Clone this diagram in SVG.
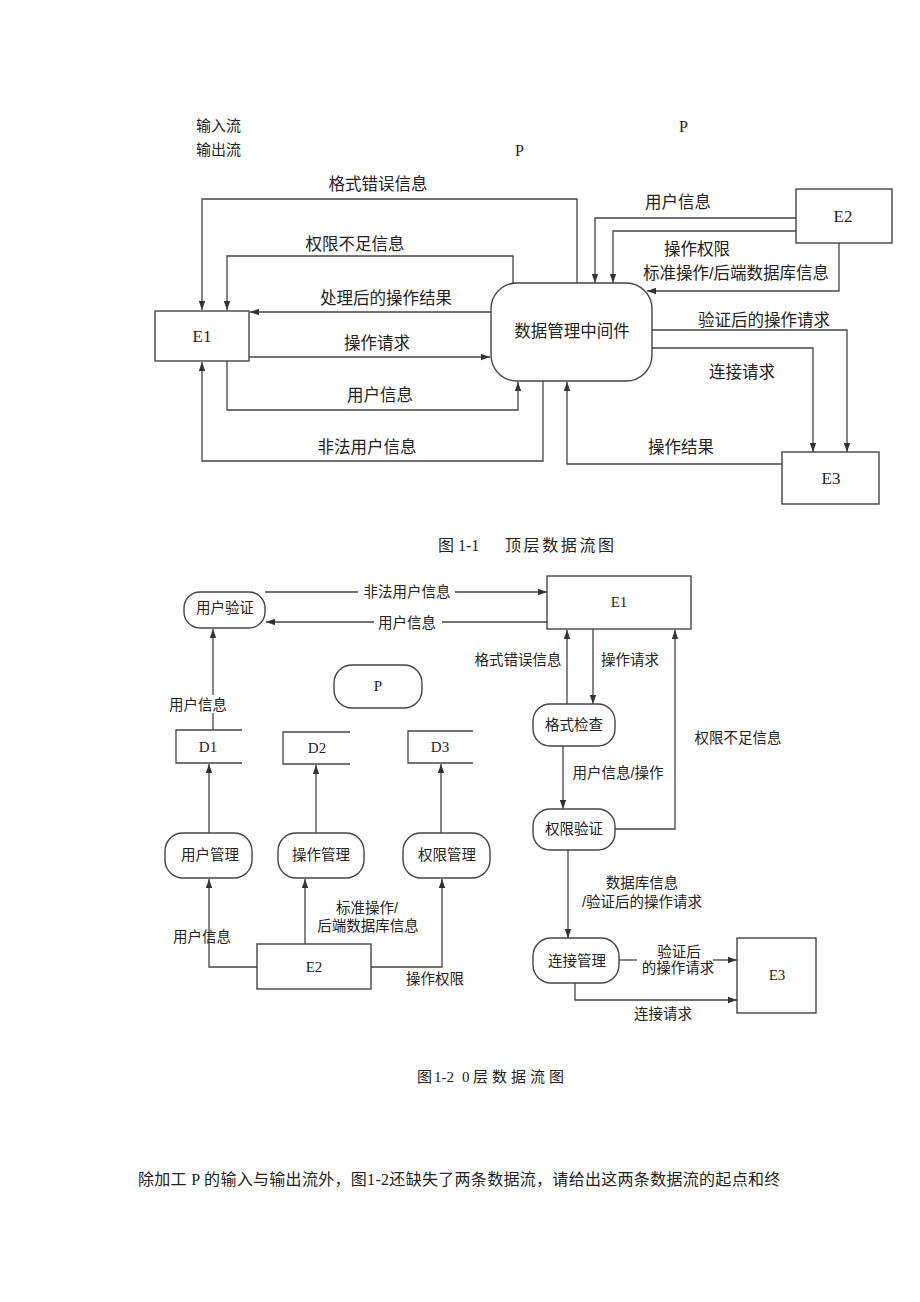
<svg xmlns="http://www.w3.org/2000/svg" width="920" height="1302" viewBox="0 0 920 1302">
<defs>
<marker id="arr" markerUnits="userSpaceOnUse" markerWidth="10" markerHeight="8" refX="9" refY="4" orient="auto">
<path d="M0,0.8 L9,4 L0,7.2 z" fill="#333"/>
</marker>
<style>
.ln{fill:none;stroke:#444;stroke-width:1.3}
.cn{fill:none;stroke:#444;stroke-width:1.3;marker-end:url(#arr)}
.bx{fill:#fff;stroke:#444;stroke-width:1.4}
.t{font-family:"Liberation Sans","Noto Sans CJK SC",sans-serif;fill:#222;text-anchor:middle}
.l1{font-size:16.5px}
.l2{font-size:14.5px}
.s{font-family:"Liberation Serif","Noto Sans CJK SC",serif;fill:#222}
.sm{text-anchor:middle}
</style>
</defs>
<rect width="920" height="1302" fill="#fff"/>

<!-- header texts -->
<g id="header">
<text class="t l1" x="196" y="131" style="text-anchor:start;font-size:15px">输入流</text>
<text class="t l1" x="196" y="155" style="text-anchor:start;font-size:15px">输出流</text>
<text class="s" x="679" y="132" font-size="16">P</text>
<text class="s" x="515" y="156" font-size="16">P</text>
</g>

<!-- ================= Figure 1-1 ================= -->
<g id="conn-top">
<path class="cn" d="M577,283 V199 H202 V310"/>
<path class="cn" d="M513,286 V256 H227 V310"/>
<path class="cn" d="M491,312 H250"/>
<path class="cn" d="M249,357 H490"/>
<path class="cn" d="M227,361 V410 H518 V382"/>
<path class="cn" d="M543,381 V461 H202 V362"/>
<path class="cn" d="M796,218 H595 V283"/>
<path class="cn" d="M796,231 H613 V283"/>
<path class="cn" d="M839,243 V291 H647"/>
<path class="cn" d="M652,330 H847 V452"/>
<path class="cn" d="M652,348 H813 V452"/>
<path class="cn" d="M782,464 H567 V382"/>
<g class="t l1">
<text x="378" y="190">格式错误信息</text>
<text x="355" y="250">权限不足信息</text>
<text x="386" y="304">处理后的操作结果</text>
<text x="377" y="349">操作请求</text>
<text x="380" y="401">用户信息</text>
<text x="367" y="453">非法用户信息</text>
<text x="678" y="208">用户信息</text>
<text x="697" y="255">操作权限</text>
<text x="736" y="279">标准操作/后端数据库信息</text>
<text x="764" y="326">验证后的操作请求</text>
<text x="742" y="378">连接请求</text>
<text x="681" y="453">操作结果</text>
</g>
</g>

<g id="E1-top">
<rect class="bx" x="155" y="311" width="94" height="50"/>
<text class="s sm" x="202" y="342" font-size="17">E1</text>
</g>
<g id="middleware">
<rect class="bx" x="491" y="283" width="161" height="98" rx="26" ry="26"/>
<text class="t l1" x="572" y="337">数据管理中间件</text>
</g>
<g id="E2-top">
<rect class="bx" x="796" y="189" width="96" height="54"/>
<text class="s sm" x="843" y="222" font-size="17">E2</text>
</g>
<g id="E3-top">
<rect class="bx" x="782" y="452" width="97" height="52"/>
<text class="s sm" x="831" y="484" font-size="17">E3</text>
</g>

<g id="caption1">
<text class="s" x="438" y="551" font-size="16"><tspan>图 1-1</tspan><tspan x="505" letter-spacing="2.6">顶层数据流图</tspan></text>
</g>

<!-- ================= Figure 1-2 ================= -->
<g id="conn-bottom">
<path class="ln" d="M265,592 H358"/>
<path class="cn" d="M455,592 H547"/>
<path class="ln" d="M547,622 H442"/>
<path class="cn" d="M374,622 H266"/>
<path class="ln" d="M213,730 V713"/>
<path class="cn" d="M213,695 V629"/>
<path class="cn" d="M209,833 V764"/>
<path class="cn" d="M316,833 V765"/>
<path class="cn" d="M441,833 V764"/>
<path class="cn" d="M257,967 H209 V879"/>
<path class="cn" d="M305,944 V879"/>
<path class="cn" d="M371,967 H442 V879"/>
<path class="cn" d="M567,704 V630"/>
<path class="cn" d="M593,629 V704"/>
<path class="cn" d="M563,746 V809"/>
<path class="cn" d="M615,829 H675 V630"/>
<path class="cn" d="M568,850 V938"/>
<path class="ln" d="M619,960 H637"/>
<path class="cn" d="M713,960 H737"/>
<path class="cn" d="M575,983 V1000 H737"/>
<g class="t l2">
<text x="407" y="597">非法用户信息</text>
<text x="407" y="628">用户信息</text>
<text x="198" y="710">用户信息</text>
<text x="202" y="942">用户信息</text>
<text x="367" y="913">标准操作/</text>
<text x="368" y="931">后端数据库信息</text>
<text x="435" y="984">操作权限</text>
<text x="518" y="665">格式错误信息</text>
<text x="630" y="665">操作请求</text>
<text x="618" y="778">用户信息/操作</text>
<text x="738" y="743">权限不足信息</text>
<text x="642" y="888">数据库信息</text>
<text x="642" y="907">/验证后的操作请求</text>
<text x="679" y="957">验证后</text>
<text x="678" y="973">的操作请求</text>
<text x="663" y="1019">连接请求</text>
</g>
</g>

<g id="E1-bottom">
<rect class="bx" x="547" y="576" width="144" height="53"/>
<text class="s sm" x="619" y="607" font-size="15">E1</text>
</g>
<g id="user-verify">
<rect class="bx" x="184" y="592" width="81" height="36" rx="16" ry="16"/>
<text class="t l2" x="225" y="613">用户验证</text>
</g>
<g id="P">
<rect class="bx" x="334" y="665" width="88" height="43" rx="18" ry="18"/>
<text class="s sm" x="378" y="691" font-size="15">P</text>
</g>
<g id="D1">
<path class="ln" d="M242,730 H176 V763 H242"/>
<text class="s sm" x="208" y="752" font-size="15">D1</text>
</g>
<g id="D2">
<path class="ln" d="M350,732 H283 V764 H350"/>
<text class="s sm" x="317" y="753" font-size="15">D2</text>
</g>
<g id="D3">
<path class="ln" d="M473,731 H408 V763 H473"/>
<text class="s sm" x="440" y="752" font-size="15">D3</text>
</g>
<g id="user-mgmt">
<rect class="bx" x="165" y="833" width="87" height="45" rx="18" ry="18"/>
<text class="t l2" x="210" y="860">用户管理</text>
</g>
<g id="op-mgmt">
<rect class="bx" x="278" y="833" width="86" height="45" rx="18" ry="18"/>
<text class="t l2" x="321" y="860">操作管理</text>
</g>
<g id="perm-mgmt">
<rect class="bx" x="403" y="833" width="87" height="45" rx="18" ry="18"/>
<text class="t l2" x="447" y="860">权限管理</text>
</g>
<g id="E2-bottom">
<rect class="bx" x="257" y="944" width="114" height="45"/>
<text class="s sm" x="314" y="972" font-size="15">E2</text>
</g>
<g id="format-check">
<rect class="bx" x="533" y="704" width="82" height="42" rx="17" ry="17"/>
<text class="t l2" x="574" y="730">格式检查</text>
</g>
<g id="perm-verify">
<rect class="bx" x="533" y="809" width="82" height="41" rx="17" ry="17"/>
<text class="t l2" x="574" y="834">权限验证</text>
</g>
<g id="conn-mgmt">
<rect class="bx" x="533" y="938" width="86" height="45" rx="18" ry="18"/>
<text class="t l2" x="577" y="966">连接管理</text>
</g>
<g id="E3-bottom">
<rect class="bx" x="737" y="938" width="79" height="75"/>
<text class="s sm" x="777" y="980" font-size="15">E3</text>
</g>

<g id="caption2">
<text class="s" y="1082" font-size="15"><tspan x="417">图</tspan><tspan x="434">1-2</tspan><tspan x="462">0</tspan><tspan x="473" letter-spacing="4">层数据流图</tspan></text>
</g>

<g id="question">
<text class="s" x="138" y="1185" font-size="16" letter-spacing="0.3">除加工 P 的输入与输出流外，图1-2还缺失了两条数据流，请给出这两条数据流的起点和终</text>
</g>
</svg>
